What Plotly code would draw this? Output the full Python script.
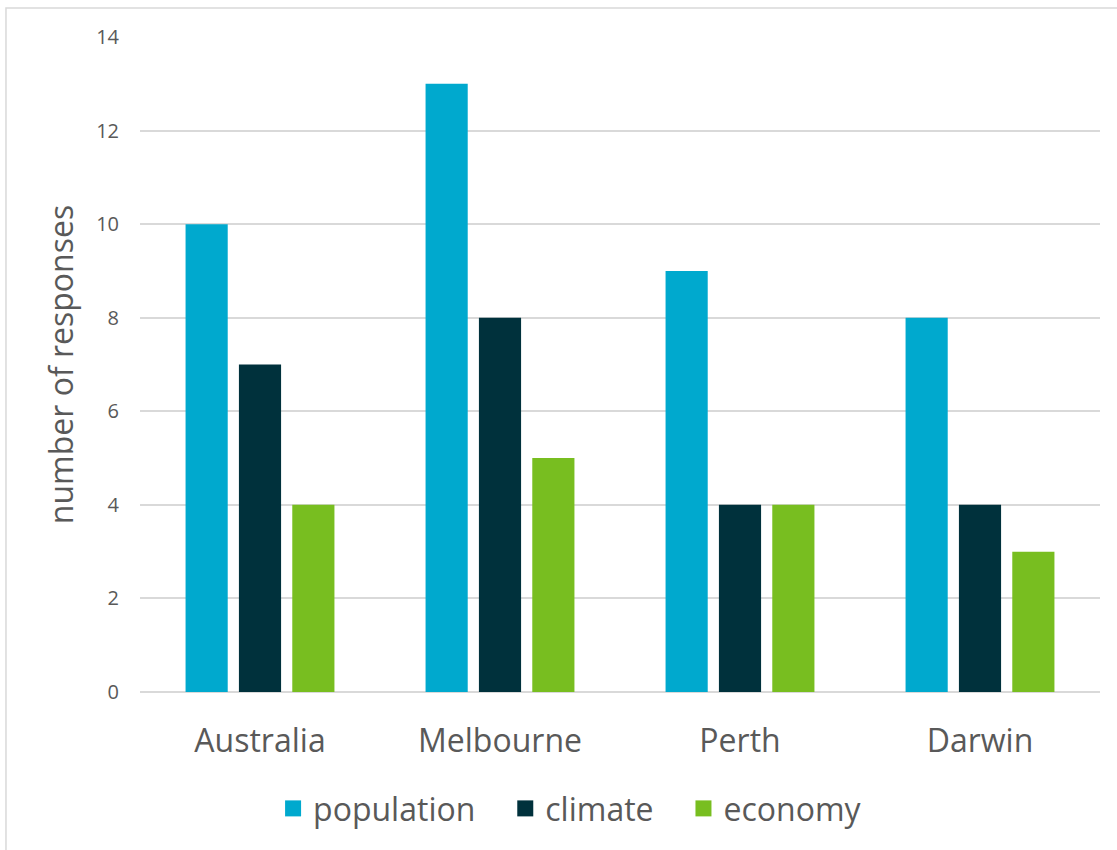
import plotly.graph_objects as go

categories = ["Australia", "Melbourne", "Perth", "Darwin"]
population = [10, 13, 9, 8]
climate = [7, 8, 4, 4]
economy = [4, 5, 4, 3]
series_names = ["population", "climate", "economy"]
colors = ["#00A9CE", "#00313C", "#78BE20"]

FONT = "Open Sans"
TEXT = "#595959"
GRID = "#D9D9D9"
PAD = "\u00a0\u00a0\u00a0"

fig = go.Figure()
for name, vals, col in zip(series_names, [population, climate, economy], colors):
    fig.add_trace(go.Bar(x=categories, y=vals, name=name, marker=dict(color=col, line=dict(width=0)),
                         showlegend=False))
# legend proxies (larger square swatches)
for i, (name, col) in enumerate(zip(series_names, colors)):
    label = name + (PAD if i < len(series_names) - 1 else "")
    fig.add_trace(go.Scatter(x=[None], y=[None], mode="markers", name=label,
                             marker=dict(symbol="square", size=18, color=col)))

fig.update_layout(
    width=1117, height=850,
    margin=dict(l=140, r=17, t=37, b=158),
    paper_bgcolor="white", plot_bgcolor="white",
    font=dict(family=FONT, color=TEXT),
    barmode="group", bargap=0.333, bargroupgap=0.21,
    showlegend=True,
    legend=dict(orientation="h", x=0.448, xanchor="center", y=-0.178, yanchor="middle",
                font=dict(size=32, color=TEXT, family=FONT),
                bgcolor="rgba(0,0,0,0)"),
    xaxis=dict(type="category", showgrid=False, showline=False, zeroline=False,
               tickfont=dict(size=32, color=TEXT, family=FONT), ticks="", ticklabelstandoff=27),
    yaxis=dict(range=[0, 14], dtick=2, showgrid=True, gridcolor=GRID, gridwidth=1.5,
               zeroline=True, zerolinecolor=GRID, zerolinewidth=1.5, showline=False,
               tickfont=dict(size=20, color=TEXT, family=FONT), ticks="", ticklabelstandoff=20,
               title=dict(text="number of responses", font=dict(size=32, color=TEXT, family=FONT),
                          standoff=12)),
    shapes=[dict(type="rect", xref="paper", yref="paper", x0=-0.1396, x1=1.2, y0=-0.5, y1=1.0443,
                 line=dict(color=GRID, width=1.5), layer="below")],
)

fig.write_html("out.html")
